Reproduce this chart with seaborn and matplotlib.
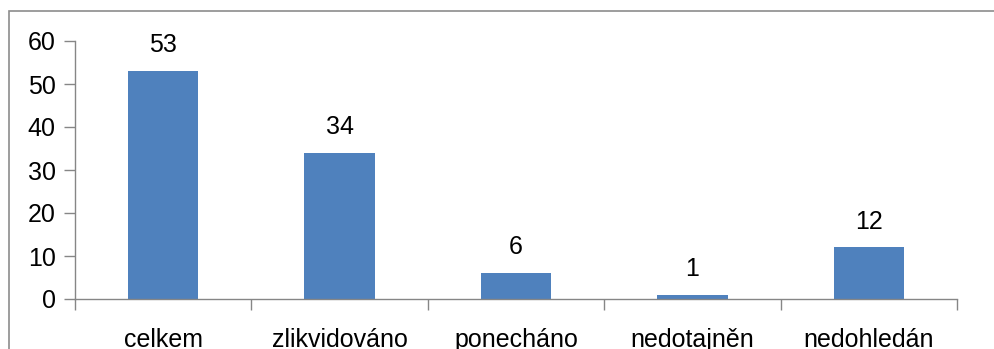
import matplotlib
matplotlib.use("Agg")
import matplotlib.pyplot as plt
import seaborn as sns
import pandas as pd
from matplotlib.patches import Rectangle

# Data
categories = ['celkem', 'zlikvidováno', 'ponecháno', 'nedotajněn', 'nedohledán']
values = [53, 34, 6, 1, 12]
y_ticks = [0, 10, 20, 30, 40, 50, 60]

df = pd.DataFrame({'kategorie': categories, 'pocet': values})

sns.set_style('white')
plt.rcParams['font.family'] = ['Liberation Sans', 'DejaVu Sans']
plt.rcParams['text.color'] = 'black'
plt.rcParams['xtick.labelcolor'] = 'black'
plt.rcParams['ytick.labelcolor'] = 'black'

fig = plt.figure(figsize=(9.94, 3.49), dpi=100)
ax = fig.add_axes([75 / 994, (349 - 299) / 349, (957 - 75) / 994, (299 - 41) / 349])

sns.barplot(data=df, x='kategorie', y='pocet', color='#4F81BD', width=0.40,
            saturation=1, linewidth=0, ax=ax)

ax.set_ylim(0, 60)
ax.set_xlim(-0.5, len(categories) - 0.5)
ax.set_yticks(y_ticks)
ax.set_xlabel('')
ax.set_ylabel('')

# Excel-like axes
for side in ['top', 'right']:
    ax.spines[side].set_visible(False)
for side in ['left', 'bottom']:
    ax.spines[side].set_color('#868686')
    ax.spines[side].set_linewidth(1)

ax.tick_params(axis='y', which='major', direction='out', length=8, width=1,
               color='#868686', labelsize=18, pad=6, left=True, labelcolor='black')
# category ticks sit between the bars
ax.set_xticks([i - 0.5 for i in range(len(categories) + 1)], minor=True)
ax.tick_params(axis='x', which='minor', direction='out', length=8, width=1,
               color='#868686', bottom=True)
ax.tick_params(axis='x', which='major', length=0, labelsize=18, pad=21,
               labelcolor='black')

# Value labels above bars
for p, v in zip(ax.patches, values):
    ax.annotate(str(v), (p.get_x() + p.get_width() / 2, p.get_height()),
                xytext=(0, 10), textcoords='offset points',
                ha='center', va='bottom', fontsize=18, color='black')

# Outer chart frame (cut off at right and bottom, as in the original)
fig.patches.append(Rectangle((9 / 994, -0.1), 1.1, (349 - 11) / 349 + 0.1,
                             transform=fig.transFigure, fill=False,
                             edgecolor='#8c8c8c', linewidth=1.2))

fig.savefig('out.png', dpi=100)
